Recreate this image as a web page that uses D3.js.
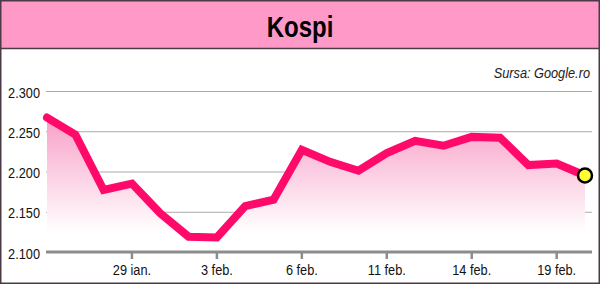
<!DOCTYPE html>
<html>
<head>
<meta charset="utf-8">
<script src="https://cdn.jsdelivr.net/npm/d3@7"></script>
<style>
  body { margin: 0; background: #fff; }
  svg { display: block; font-family: "Liberation Sans", Arial, sans-serif; }
</style>
</head>
<body>
<svg width="600" height="284"></svg>
<script>
const svg = d3.select("svg"),
      width = +svg.attr("width"),
      height = +svg.attr("height");

// trading days, 22 ian. - 20 feb.
const days = ["22 ian.", "23 ian.", "28 ian.", "29 ian.", "30 ian.", "31 ian.", "3 feb.", "4 feb.", "5 feb.",
              "6 feb.", "7 feb.", "10 feb.", "11 feb.", "12 feb.", "13 feb.", "14 feb.", "17 feb.", "18 feb.",
              "19 feb.", "20 feb."];
const values = [2267, 2246, 2177, 2185, 2148, 2119, 2118, 2157, 2165, 2227, 2212, 2201, 2223, 2238,
                2232, 2243, 2242, 2208, 2210, 2195];
const tickDays = ["29 ian.", "3 feb.", "6 feb.", "11 feb.", "14 feb.", "19 feb."];
const yTicks = [2100, 2150, 2200, 2250, 2300];

const colors = {
  header: "#ff99c8",
  frame: "#4d3a47",
  line: "#ff0a6a",
  grid: "#aaa",
  axis: "#8c8c8c",
  dot: "#ffff33"
};

const narrow = 0.85; // the original uses a condensed face
const fmt = d => d3.format(",")(d).replace(",", ".");

const x = d3.scalePoint().domain(days).range([47, 585]);
const y = d3.scaleLinear().domain([2100, 2300]).range([252, 91]);

// header
svg.append("rect").attr("x", 0).attr("y", 0).attr("width", width).attr("height", 49)
  .attr("fill", colors.header);
svg.append("line").attr("x1", 0).attr("x2", width).attr("y1", 48.5).attr("y2", 48.5)
  .attr("stroke", colors.frame).attr("stroke-width", 1.5);
svg.append("text").attr("transform", "translate(300,37) scale(0.8,1)").attr("text-anchor", "middle")
  .attr("font-size", 30).attr("font-weight", "bold").text("Kospi");

svg.append("text").attr("transform", `translate(590,78) scale(${narrow},1)`).attr("text-anchor", "end")
  .attr("font-size", 15).attr("font-style", "italic").attr("fill", "#222")
  .text("Sursa: Google.ro");

// gradient under line
const grad = svg.append("defs").append("linearGradient").attr("id", "fade")
  .attr("gradientUnits", "userSpaceOnUse")
  .attr("x1", 0).attr("x2", 0).attr("y1", 115).attr("y2", 232);
grad.append("stop").attr("offset", 0).attr("stop-color", "#f89ec6");
grad.append("stop").attr("offset", 1).attr("stop-color", "#fff");

// grid
svg.append("g").selectAll("line")
  .data(yTicks.slice(1)).enter().append("line")
  .attr("x1", 46).attr("x2", 592)
  .attr("y1", d => y(d) + 0.5).attr("y2", d => y(d) + 0.5)
  .attr("stroke", colors.grid).attr("stroke-width", 1);

svg.append("g").selectAll("text")
  .data(yTicks).enter().append("text")
  .attr("transform", d => `translate(40,${y(d) + 6.5}) scale(${narrow},1)`)
  .attr("text-anchor", "end").attr("font-size", 15).attr("fill", "#111")
  .text(fmt);

// area + line
const area = d3.area()
  .x(d => x(d.day)).y0(232).y1(d => y(d.value));
const line = d3.line()
  .x(d => x(d.day)).y(d => y(d.value));
const data = days.map((d, i) => ({day: d, value: values[i]}));

svg.append("path").datum(data).attr("d", area).attr("fill", "url(#fade)");

// x axis
svg.append("line").attr("x1", 46).attr("x2", 592).attr("y1", 252).attr("y2", 252)
  .attr("stroke", colors.axis).attr("stroke-width", 3);
svg.append("g").selectAll("line")
  .data(tickDays).enter().append("line")
  .attr("x1", d => x(d)).attr("x2", d => x(d)).attr("y1", 252).attr("y2", 259)
  .attr("stroke", colors.axis).attr("stroke-width", 2.5);
svg.append("g").selectAll("text")
  .data(tickDays).enter().append("text")
  .attr("transform", d => `translate(${x(d)},275) scale(${narrow},1)`).attr("text-anchor", "middle")
  .attr("font-size", 15).attr("fill", "#111")
  .text(d => d);

svg.append("path").datum(data).attr("d", line)
  .attr("fill", "none").attr("stroke", colors.line).attr("stroke-width", 8)
  .attr("stroke-linecap", "round").attr("stroke-linejoin", "miter");

const last = data[data.length - 1];
svg.append("circle").attr("cx", x(last.day)).attr("cy", y(last.value)).attr("r", 7)
  .attr("fill", colors.dot).attr("stroke", "#000").attr("stroke-width", 2.5);

// frame
svg.append("rect").attr("x", 0.75).attr("y", 0.75).attr("width", width - 1.5).attr("height", height - 1.5)
  .attr("fill", "none").attr("stroke", colors.frame).attr("stroke-width", 1.5);
</script>
</body>
</html>
